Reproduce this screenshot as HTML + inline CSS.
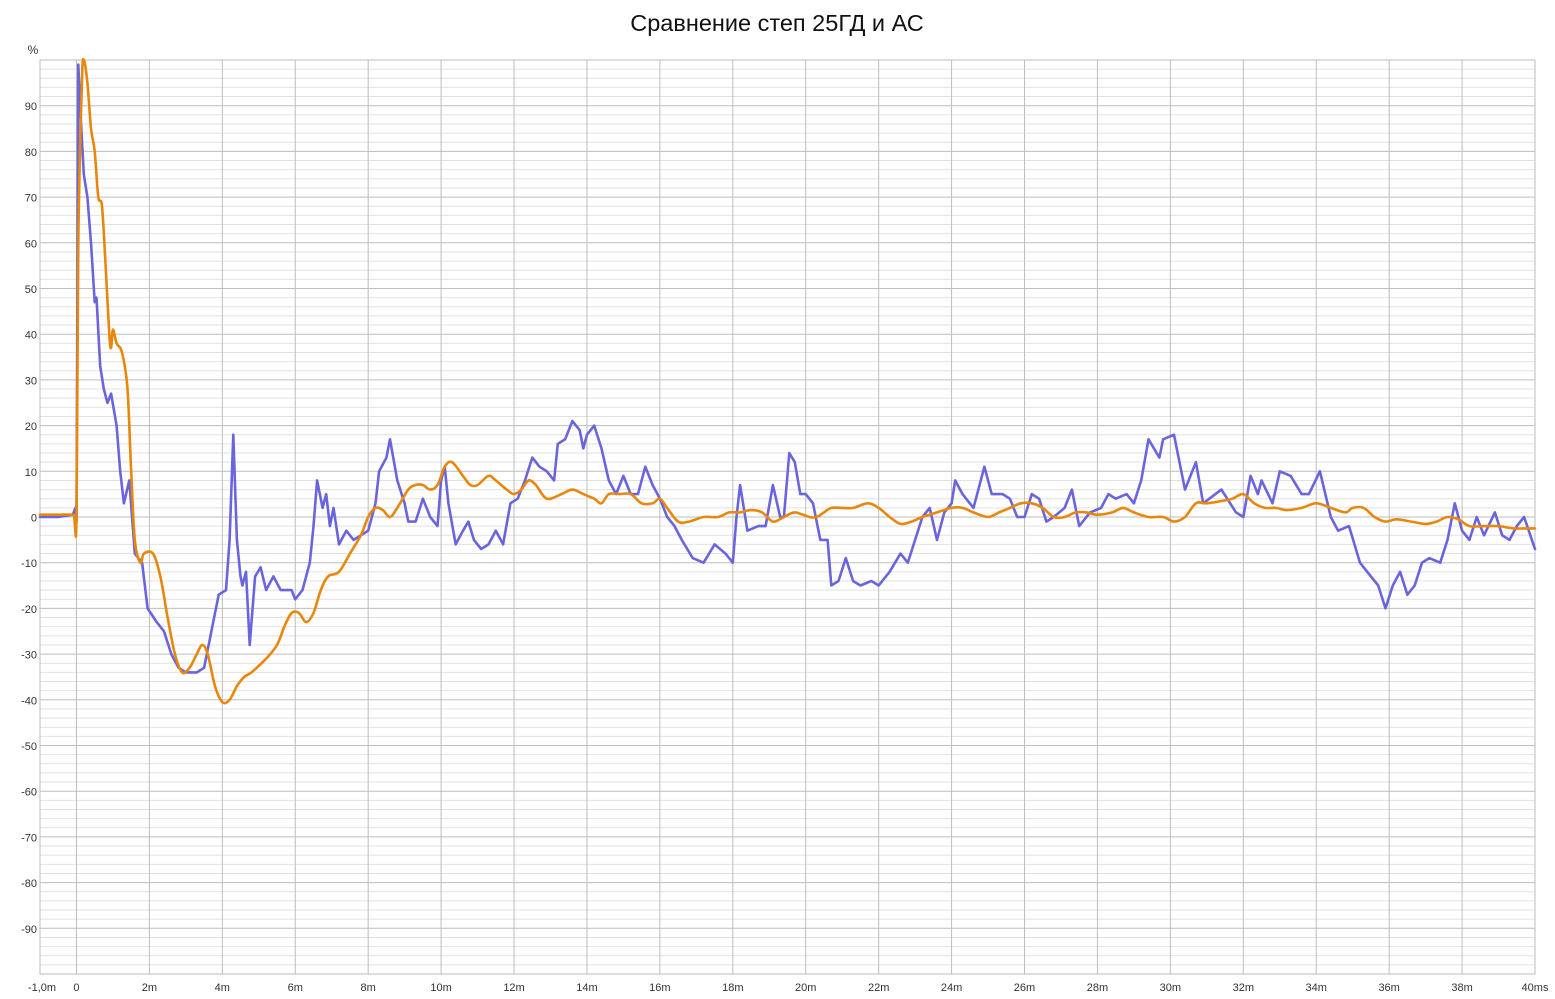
<!DOCTYPE html>
<html><head><meta charset="utf-8">
<style>
html,body{margin:0;padding:0;background:#fff;}
svg{display:block;font-family:"Liberation Sans","DejaVu Sans",sans-serif;}
</style></head>
<body>
<svg id="chart" width="1555" height="999" viewBox="0 0 1555 999">
<text x="777" y="31" text-anchor="middle" font-size="23.5" fill="#111">Сравнение степ 25ГД и АС</text>
<text x="33" y="54" text-anchor="middle" font-size="12" fill="#333">%</text>
<g id="grid"></g>
<g id="yticks"></g>
<g id="xticks"></g>
<g id="series"></g>
</svg>
<script>
const xTicks = [-1,0,2,4,6,8,10,12,14,16,18,20,22,24,26,28,30,32,34,36,38,40];
const xTickLabels = ["-1,0m","0","2m","4m","6m","8m","10m","12m","14m","16m","18m","20m","22m","24m","26m","28m","30m","32m","34m","36m","38m","40ms"];
const yTicks = [90,80,70,60,50,40,30,20,10,0,-10,-20,-30,-40,-50,-60,-70,-80,-90];

const blueT = [-1,-0.5,-0.1,-0.03,0,0.05,0.1,0.2,0.3,0.4,0.5,0.55,0.65,0.75,0.85,0.95,1.1,1.2,1.3,1.45,1.6,1.8,1.95,2.2,2.4,2.6,2.8,3.0,3.3,3.5,3.7,3.9,4.1,4.2,4.3,4.4,4.5,4.55,4.65,4.75,4.9,5.05,5.2,5.4,5.6,5.9,6.0,6.2,6.4,6.5,6.6,6.75,6.85,6.95,7.05,7.2,7.4,7.6,7.8,8.0,8.2,8.3,8.5,8.6,8.8,9.0,9.1,9.3,9.5,9.7,9.9,10.0,10.1,10.2,10.4,10.6,10.75,10.9,11.1,11.3,11.5,11.7,11.9,12.1,12.3,12.5,12.7,12.9,13.1,13.2,13.4,13.6,13.8,13.9,14.0,14.2,14.4,14.6,14.8,15.0,15.2,15.4,15.6,15.8,16.0,16.2,16.4,16.6,16.9,17.2,17.5,17.8,18.0,18.1,18.2,18.4,18.7,18.9,19.1,19.3,19.4,19.55,19.7,19.85,20.0,20.2,20.4,20.6,20.7,20.9,21.1,21.3,21.5,21.8,22.0,22.3,22.6,22.8,23.0,23.2,23.4,23.6,23.8,24.0,24.1,24.3,24.5,24.6,24.9,25.1,25.4,25.6,25.8,26.0,26.2,26.4,26.6,26.8,27.1,27.3,27.5,27.8,28.1,28.3,28.5,28.8,29.0,29.2,29.4,29.7,29.8,30.1,30.3,30.4,30.7,30.9,31.4,31.8,32.0,32.2,32.4,32.5,32.8,33.0,33.3,33.6,33.8,34.1,34.4,34.6,34.9,35.2,35.5,35.7,35.9,36.1,36.3,36.5,36.7,36.9,37.1,37.4,37.6,37.8,38.0,38.2,38.4,38.6,38.9,39.1,39.3,39.5,39.7,40];
const blueV = [0,0,0.5,2,-1,99,90,75,70,60,47,48,33,28,25,27,20,10,3,8,-8,-10,-20,-23,-25,-30,-33,-34,-34,-33,-25,-17,-16,-5,18,-5,-13,-15,-12,-28,-13,-11,-16,-13,-16,-16,-18,-16,-10,-2,8,2,5,-2,2,-6,-3,-5,-4,-3,3,10,13,17,8,3,-1,-1,4,0,-2,8,11,3,-6,-3,-1,-5,-7,-6,-3,-6,3,4,8,13,11,10,8,16,17,21,19,15,18,20,15,8,5,9,5,5,11,7,4,0,-2,-5,-9,-10,-6,-8,-10,0,7,-3,-2,-2,7,0,0,14,12,5,5,3,-5,-5,-15,-14,-9,-14,-15,-14,-15,-12,-8,-10,-5,0,2,-5,1,3,8,5,3,2,11,5,5,4,0,0,5,4,-1,0,2,6,-2,1,2,5,4,5,3,8,17,13,17,18,10,6,12,3,6,1,0,9,5,8,3,10,9,5,5,10,0,-3,-2,-10,-13,-15,-20,-15,-12,-17,-15,-10,-9,-10,-5,3,-3,-5,0,-4,1,-4,-5,-2,0,-7];

const orangeT = [-1,-0.5,-0.1,0,0.05,0.15,0.2,0.3,0.4,0.5,0.6,0.7,0.8,0.9,0.95,1.0,1.1,1.25,1.4,1.5,1.6,1.75,1.85,2.1,2.3,2.5,2.7,2.9,3.1,3.3,3.45,3.6,3.8,4.0,4.2,4.4,4.6,4.8,5.2,5.5,5.7,5.9,6.1,6.3,6.5,6.7,6.9,7.2,7.5,7.8,8.0,8.2,8.4,8.6,8.8,9.1,9.3,9.5,9.7,9.9,10.1,10.3,10.6,10.8,11.0,11.3,11.5,11.8,12.0,12.2,12.4,12.6,12.9,13.3,13.6,13.9,14.2,14.4,14.6,14.9,15.2,15.5,15.8,16.0,16.2,16.5,16.8,17.2,17.6,17.9,18.2,18.5,18.8,19.1,19.4,19.7,20.1,20.3,20.5,20.7,21.0,21.3,21.7,22.0,22.3,22.6,22.9,23.2,23.6,24.0,24.3,24.6,25.0,25.3,25.6,25.9,26.2,26.5,26.8,27.1,27.4,27.7,28.0,28.4,28.7,29.0,29.4,29.8,30.1,30.4,30.7,31.0,31.4,31.7,32.0,32.3,32.6,32.9,33.2,33.6,34.0,34.4,34.8,35.0,35.3,35.6,35.9,36.2,36.6,37.0,37.3,37.6,37.9,38.2,38.6,39.0,39.4,39.7,40];
const orangeV = [0.5,0.5,0.5,0,60,95,100,95,85,80,70,68,55,40,37,41,38,36,28,10,-5,-10,-8,-8,-13,-22,-30,-34,-33,-30,-28,-30,-37,-40.5,-40,-37,-35,-34,-31,-28,-24,-21,-21,-23,-21,-16,-13,-12,-8,-4,0,2,1.5,0,2,6,7,7,6,7,11,12,9,7,7,9,8,6,5,6,8,7,4,5,6,5,4,3,5,5,5,3,3,4,2,-1,-1,0,0,1,1,1.5,1,-1,0,1,0,0,1,2,2,2,3,2,0,-1.5,-1,0,1,2,2,1,0,1,2,3,3,2,0,0,1,1,0.5,1,2,1,0,0,-1,0,3,3,3.5,4,5,3,2,2,1.5,2,3,2,1,2,2,0,-1,-0.5,-1,-1.5,-1,0,-0.5,-2,-2,-2,-2.5,-2.5,-2.5];

const NS = "http://www.w3.org/2000/svg";
const L = 40, R = 1535, T = 60, B = 974;
const xScale = t => L + (t - (-1)) / 41 * (R - L);
const yScale = v => T + (100 - v) / 200 * (B - T);

function mk(tag, attrs, parent){
  const e = document.createElementNS(NS, tag);
  for (const k in attrs) e.setAttribute(k, attrs[k]);
  parent.appendChild(e);
  return e;
}
const grid = document.getElementById('grid');
for (let v = -98; v <= 98; v += 2) {
  const major = v % 10 === 0;
  const ln = mk('line', {x1:L, x2:R, y1:yScale(v), y2:yScale(v), stroke: major ? '#bdbdbd' : '#e2e2e2', 'stroke-width':1}, grid);
  
  
}
xTicks.forEach(t => {
  const ln = mk('line', {x1:xScale(t), x2:xScale(t), y1:T, y2:B, stroke:'#bdbdbd', 'stroke-width':1}, grid);
  
  
});
const frame = mk('rect', {x:L, y:T, width:R-L, height:B-T, fill:'none', stroke:'#bdbdbd', 'stroke-width':1}, grid);



const yg = document.getElementById('yticks');
yTicks.forEach(v => {
  const tx = mk('text', {x:37, y:yScale(v)+4.5, 'text-anchor':'end', 'font-size':11, fill:'#333'}, yg);
  tx.textContent = String(v);
  
  
});
const xg = document.getElementById('xticks');
xTicks.forEach((t, i) => {
  const tx = mk('text', {x:xScale(t) + (i===0 ? 2 : 0), y:991, 'text-anchor':'middle', 'font-size':11, fill:'#333'}, xg);
  tx.textContent = xTickLabels[i];
  
  
});

const sg = document.getElementById('series');
function drawLine(ts, vs, color, name, smooth){
  const P = ts.map((t, i) => [xScale(t), yScale(Math.max(-100, Math.min(100, vs[i])))]);
  let d = 'M' + P[0][0].toFixed(1) + ',' + P[0][1].toFixed(1);
  for (let i = 0; i < P.length - 1; i++) {
    if (!smooth) { d += ' L' + P[i+1][0].toFixed(1) + ',' + P[i+1][1].toFixed(1); continue; }
    const p0 = P[Math.max(0,i-1)], p1 = P[i], p2 = P[i+1], p3 = P[Math.min(P.length-1,i+2)];
    const k = 0.5/3;
    const c1 = [p1[0] + (p2[0]-p0[0])*k, p1[1] + (p2[1]-p0[1])*k];
    const c2 = [p2[0] - (p3[0]-p1[0])*k, p2[1] - (p3[1]-p1[1])*k];
    d += ' C' + c1[0].toFixed(1) + ',' + c1[1].toFixed(1) + ' ' + c2[0].toFixed(1) + ',' + c2[1].toFixed(1) + ' ' + p2[0].toFixed(1) + ',' + p2[1].toFixed(1);
  }
  const pl = mk('path', {d:d, fill:'none', stroke:color, 'stroke-width':2.6, 'stroke-linejoin':'round', 'stroke-linecap':'round'}, sg);
  
  
}
drawLine(blueT, blueV, '#6b65dd', 'series-25gd-blue', false);
drawLine(orangeT, orangeV, '#e8870b', 'series-ac-orange', true);
</script>
</body></html>
